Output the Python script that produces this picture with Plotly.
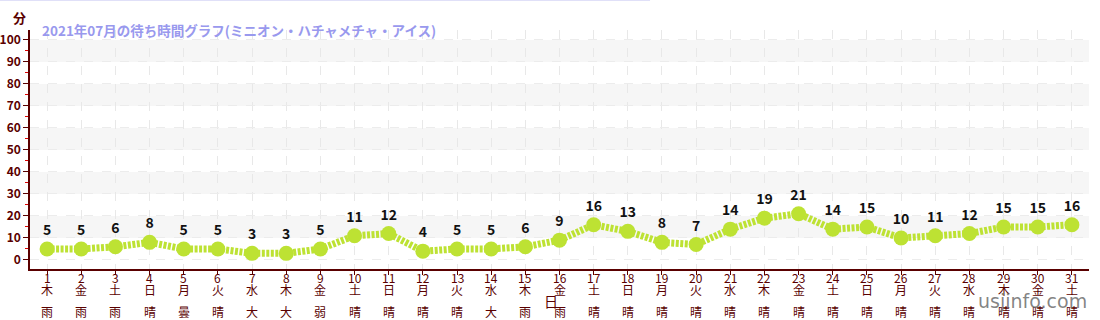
import plotly.graph_objects as go

days = list(range(1, 32))
weekdays = ["木","金","土","日","月","火","水","木","金","土","日","月","火","水","木","金","土","日","月","火","水","木","金","土","日","月","火","水","木","金","土"]
weather = ["雨","雨","雨","晴","曇","晴","大雨","大雨","弱雨","晴","晴","晴","晴","大雨","雨","雨","晴","晴","晴","晴","晴","晴","晴","晴","晴","晴","晴","晴","晴","晴","晴"]
waits = [5,5,6,8,5,5,3,3,5,11,12,4,5,5,6,9,16,13,8,7,14,19,21,14,15,10,11,12,15,15,16]
title_text = "2021年07月の待ち時間グラフ(ミニオン・ハチャメチャ・アイス)"

FONT = "Noto Sans CJK JP"
LIME = "#bde233"
AXIS = "#5a0000"

fig = go.Figure()
fig.add_trace(go.Scatter(
    x=days, y=waits, mode="lines+markers+text",
    line=dict(color=LIME, width=7, dash="3px,1.5px"),
    marker=dict(color=LIME, size=15),
    text=[str(v) for v in waits], textposition="top center",
    textfont=dict(family=FONT, size=14, color="#111111", weight="bold"),
    cliponaxis=False, hoverinfo="skip", showlegend=False,
))

shapes = []
for lo in range(10, 100, 20):
    shapes.append(dict(type="rect", xref="paper", yref="y", x0=0, x1=1, y0=lo, y1=lo + 10,
                       fillcolor="#f6f6f6", line=dict(width=0), layer="below"))
# top lavender line
shapes.append(dict(type="line", xref="paper", yref="paper", x0=-0.0283, x1=0.5855, y0=1.1255, y1=1.1255,
                   line=dict(color="#e0e0f8", width=2)))
annotations = []
# x label rows
for d, wd, wt in zip(days, weekdays, weather):
    annotations.append(dict(x=d, y=-4.1, xref="x", yref="y", text=str(d), showarrow=False,
                            yanchor="top", yshift=2, font=dict(family=FONT, size=12, color=AXIS)))
    annotations.append(dict(x=d, y=-4.1, xref="x", yref="y", text=wd, showarrow=False,
                            yanchor="top", yshift=-10, font=dict(family=FONT, size=12, color=AXIS)))
    annotations.append(dict(x=d, y=-4.1, xref="x", yref="y", text="<br>".join(list(wt)), showarrow=False,
                            yanchor="top", yshift=-32, font=dict(family=FONT, size=12, color=AXIS)))
annotations.append(dict(x=16, y=-4.1, xref="x", yref="y", text="日", showarrow=False, yanchor="top",
                        xshift=-9, yshift=-20, font=dict(family=FONT, size=14, color=AXIS)))
annotations.append(dict(x=-0.0095, y=1.054, xref="paper", yref="paper", text="分", showarrow=False,
                        xanchor="center", yanchor="middle", font=dict(family=FONT, size=13, color=AXIS, weight="bold")))
annotations.append(dict(x=0.0095, y=1.0, xref="paper", yref="paper", text=title_text, showarrow=False,
                        xanchor="left", yanchor="middle", font=dict(family=FONT, size=13.5, color="#9999ee", weight="bold")))
annotations.append(dict(x=1.0, y=-4.1, xref="paper", yref="y", text="usjinfo.com", showarrow=False,
                        xanchor="right", yanchor="top", yshift=-19,
                        font=dict(family="DejaVu Sans", size=19, color="rgba(110,110,110,0.85)")))

fig.update_layout(
    width=1100, height=320,
    margin=dict(l=30, r=11, t=30, b=51),
    plot_bgcolor="white", paper_bgcolor="white",
    shapes=shapes, annotations=annotations,
    xaxis=dict(range=[0.5, 31.5], tickmode="array", tickvals=days, showticklabels=False, automargin=False,
               ticks="outside", ticklen=4, tickcolor=AXIS, showline=True, linecolor=AXIS, linewidth=1.5,
               showgrid=True, gridcolor="#e8e8e8", griddash="dash", gridwidth=1, zeroline=False, fixedrange=True),
    yaxis=dict(range=[-4.1, 104.5], tickmode="linear", tick0=0, dtick=10, automargin=False,
               ticks="outside", ticklen=5, tickcolor=AXIS, showline=True, linecolor=AXIS, linewidth=1.5,
               tickfont=dict(family=FONT, size=12, color=AXIS, weight="bold"),
               showgrid=True, gridcolor="#ececec", griddash="dash", zeroline=False,
               minor=dict(tickmode="linear", tick0=5, dtick=10, ticks="outside", ticklen=3, tickcolor="#dd0000", showgrid=False),
               fixedrange=True),
)

fig.write_html("out.html")
